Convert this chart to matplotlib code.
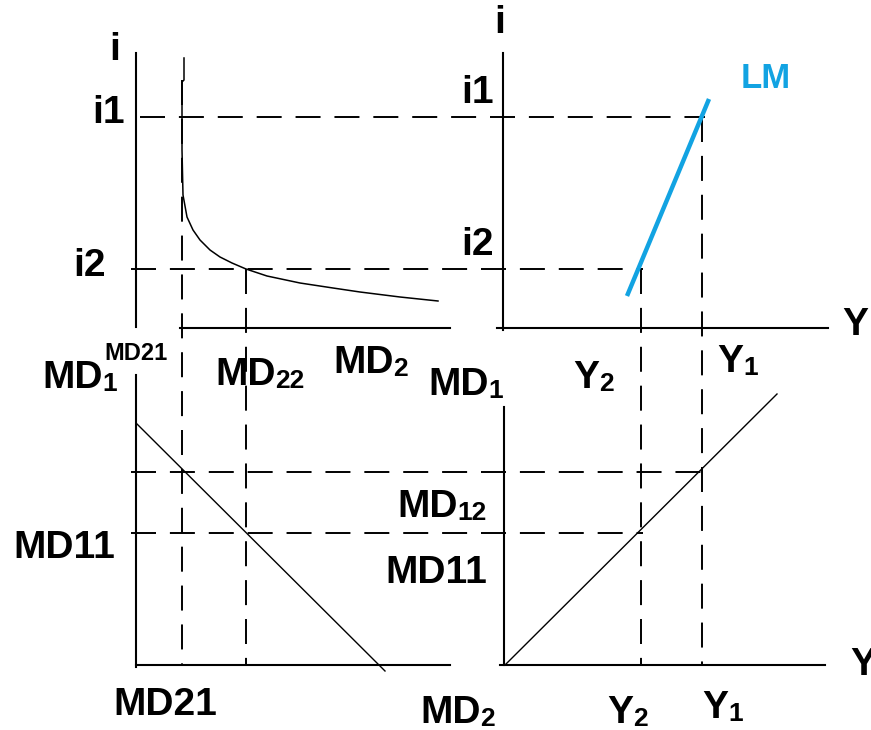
import matplotlib.pyplot as plt

plt.rcParams['font.family'] = ['Liberation Sans', 'DejaVu Sans']
plt.rcParams['font.weight'] = 'bold'
plt.rcParams['lines.scale_dashes'] = False

# diagram levels, in picture pixels (y grows downward)
i_levels = [117, 269]          # i1, i2
md2_levels = [182, 246]        # MD21, MD22 (x)
md1_levels = [472, 533]        # MD12, MD11 (y)
y_levels = [702, 641]          # Y1, Y2 (x)

# liquidity demand curve
curve_x = [184, 184, 182, 182, 183, 187, 193, 200, 210, 220, 232, 246, 267, 300, 333, 360, 400, 438]
curve_y = [58, 80, 82, 150, 195, 217, 230, 240, 250, 257, 263, 269, 276, 283, 288, 292, 297, 301]

lm_x = [627, 709]
lm_y = [296, 99]
md_line_x = [136, 385]
md_line_y = [423, 671]
y_line_x = [505, 777]
y_line_y = [665, 394]

fig = plt.figure(figsize=(8.71, 7.30), dpi=100)
ax = fig.add_axes([0, 0, 1, 1])
ax.set_xlim(0, 871)
ax.set_ylim(730, 0)
ax.axis('off')

solid = dict(color='black', lw=1.5)
dash = dict(color='black', lw=1.4, dashes=(18, 10))

# axes of the four panels
ax.plot([136, 136], [53, 327], **solid)
ax.plot([180, 450], [328, 328], **solid)
ax.plot([503, 503], [53, 330], **solid)
ax.plot([497, 828], [328, 328], **solid)
ax.plot([136, 136], [375, 667], **solid)
ax.plot([136, 450], [665, 665], **solid)
ax.plot([504, 504], [407, 665], **solid)
ax.plot([500, 825], [665, 665], **solid)

# guide lines
ax.plot([140, y_levels[0] + 3], [i_levels[0]] * 2, **dash)
ax.plot([131, y_levels[1] + 2], [i_levels[1]] * 2, **dash)
ax.plot([131, y_levels[0] + 3], [md1_levels[0]] * 2, **dash)
ax.plot([131, y_levels[1] + 2], [md1_levels[1]] * 2, **dash)
ax.plot([md2_levels[0]] * 2, [80, 665], **dash)
ax.plot([md2_levels[1]] * 2, [i_levels[1], 665], **dash)
ax.plot([y_levels[1]] * 2, [i_levels[1], 665], **dash)
ax.plot([y_levels[0]] * 2, [i_levels[0], 665], **dash)

# curves
ax.plot(curve_x, curve_y, color='black', lw=1.1)
ax.plot(md_line_x, md_line_y, color='black', lw=1.0)
ax.plot(y_line_x, y_line_y, color='black', lw=1.0)
ax.plot(lm_x, lm_y, color='#12a3e2', lw=3.2, solid_capstyle='butt')


def label(x, y, main, sub=None, size=28, color='black', bg=False):
    kw = dict(bbox=dict(fc='white', ec='none', pad=0)) if bg else {}
    t = ax.text(x, y, main, fontsize=size, ha='left', va='baseline',
                color=color, **kw)
    if sub:
        ax.annotate(sub, xy=(1, 0), xycoords=t, fontsize=size * 0.68,
                    ha='left', va='bottom', color=color)
    return t


# top-left panel
label(109, 60, 'i')
label(92, 123, 'i1')
label(73, 276, 'i2')
label(42, 388, 'MD', '1')
label(104, 360, 'MD21', size=17, bg=True)
label(215, 385, 'MD', '22')
label(333, 373, 'MD', '2')

# top-right panel
label(494, 33, 'i')
label(461, 103, 'i1')
label(461, 255, 'i2')
label(741, 88, 'LM', size=25, color='#12a3e2')
label(842, 335, 'Y')
label(428, 395, 'MD', '1')
label(573, 388, 'Y', '2')
label(717, 372, 'Y', '1')

# bottom panels
label(13, 558, 'MD11')
label(113, 715, 'MD21')
label(397, 517, 'MD', '12')
label(385, 583, 'MD11')
label(420, 723, 'MD', '2')
label(607, 723, 'Y', '2')
label(702, 718, 'Y', '1')
label(850, 675, 'Y')

fig.savefig('out.png', dpi=100)
